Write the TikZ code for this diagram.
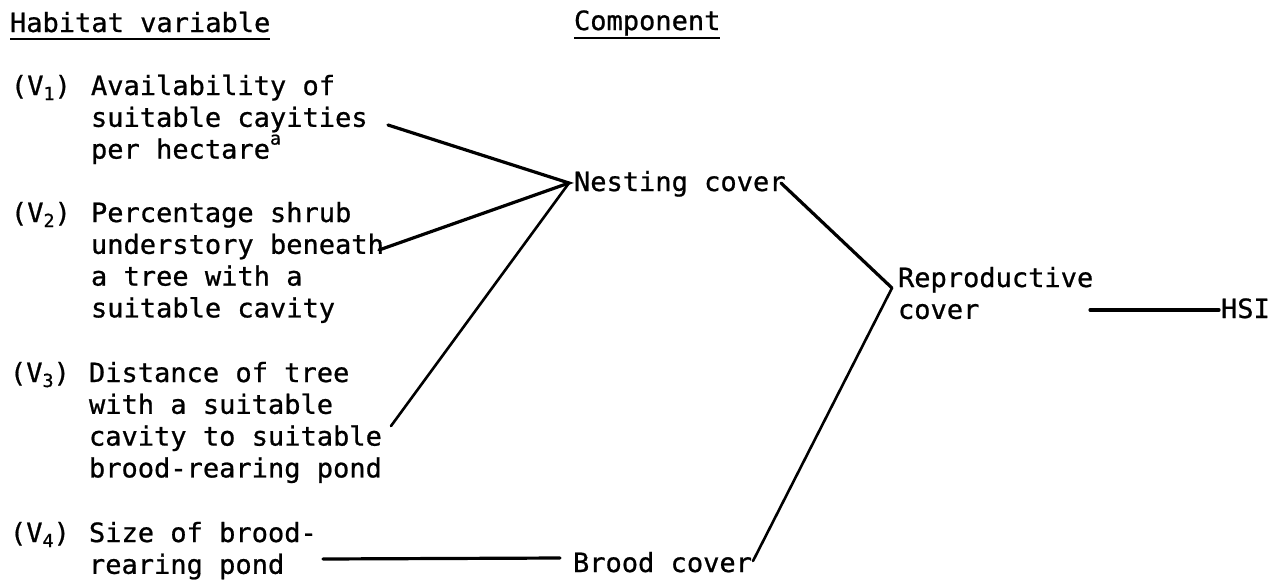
\documentclass[tikz,border=0pt]{standalone}
\usepackage{fontspec}
\newfontfamily\tw[FakeStretch=1.02,FakeBold=0.8]{DejaVu Sans Mono}
\newcommand\sbs[1]{\raisebox{-5pt}{\fontsize{18}{18}\selectfont #1}}
\newcommand\sps[1]{\raisebox{14pt}{\fontsize{18}{18}\selectfont #1}}
\newcommand\blk[1]{\vtop{\baselineskip=31.8pt\lineskiplimit=-100pt\lineskip=0pt #1}}
\begin{document}
\begin{tikzpicture}[x=1pt,y=-1pt,
  txt/.style={inner sep=0pt,outer sep=0pt,anchor=base west,font=\tw\fontsize{26.5}{31.8}\selectfont},
  conn/.style={line width=3.2pt,line cap=round,line join=miter},
  thin conn/.style={line width=2.6pt,line cap=round}]
\useasboundingbox (0,0) rectangle (1282,579);
\fill[white] (0,0) rectangle (1282,579);
% headers
\node[txt] (hab) at (10,32) {Habitat variable};
\node[txt] (comp) at (574,30) {Component};
\draw[line width=2.2pt] ([yshift=-7pt]hab.base west) -- ([yshift=-7pt]hab.base east);
\draw[line width=2.2pt] ([yshift=-8pt]comp.base west) -- ([yshift=-8pt]comp.base east);
% habitat variables
\node[txt] (v1lab) at (11,95) {(V\sbs{1})};
\node[txt] (v1) at (91,95) {\blk{\hbox{Availability of}\hbox{suitable cayities}\hbox{per hectare\sps{a}}}};
\node[txt] (v2lab) at (11,222) {(V\sbs{2})};
\node[txt] (v2) at (91,222) {\blk{\hbox{Percentage shrub}\hbox{understory beneath}\hbox{a tree with a}\hbox{suitable cavity}}};
\node[txt] (v3lab) at (10,382) {(V\sbs{3})};
\node[txt] (v3) at (89,382) {\blk{\hbox{Distance of tree}\hbox{with a suitable}\hbox{cavity to suitable}\hbox{brood-rearing pond}}};
\node[txt] (v4lab) at (10,542) {(V\sbs{4})};
\node[txt] (v4) at (89,542) {\blk{\hbox{Size of brood-}\hbox{rearing pond}}};
% components
\node[txt] (nest) at (574,191) {Nesting cover};
\node[txt] (brood) at (573,572) {Brood cover};
\node[txt] (repro) at (898,287) {\blk{\hbox{Reproductive}\hbox{cover}}};
\node[txt] (hsi) at (1221,318) {HSI};
% connector end points
\coordinate (v1e) at (388,125);
\coordinate (v2e) at (379,250);
\coordinate (v3e) at (391,426);
\coordinate (v4e) at (323,559);
\coordinate (nestin) at (569,183);
\coordinate (nestout) at (781,183);
\coordinate (broodin) at (560,558);
\coordinate (broodout) at (753,561);
\coordinate (reproin) at (892,288);
\coordinate (reproout) at (1090,310);
\coordinate (hsiin) at (1219,310);
% connectors
\draw[conn] (v1e) -- (nestin) -- (v2e);
\draw[thin conn] (v3e) -- (nestin);
\draw[conn] (v4e) -- (broodin);
\draw[conn] (nestout) -- (reproin);
\draw[thin conn] (broodout) -- (reproin);
\draw[conn] (reproout) -- (hsiin);
\end{tikzpicture}
\end{document}
